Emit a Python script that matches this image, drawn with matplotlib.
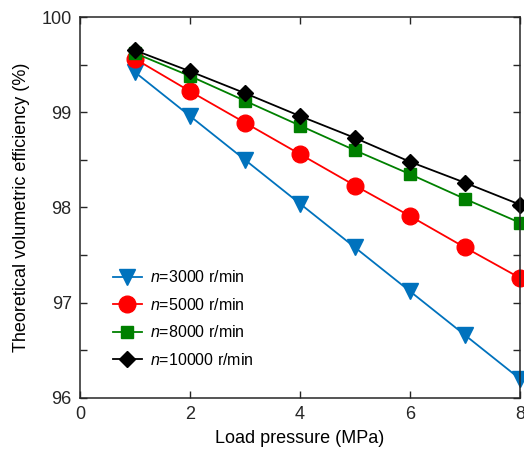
import matplotlib
matplotlib.use("Agg")
import matplotlib.pyplot as plt
from matplotlib.ticker import FuncFormatter, MultipleLocator

plt.rcParams['font.family'] = ['Liberation Sans', 'DejaVu Sans']
plt.rcParams['mathtext.fontset'] = 'custom'
plt.rcParams['mathtext.it'] = 'Liberation Sans:italic'
plt.rcParams['mathtext.rm'] = 'Liberation Sans'

pressure = [1, 2, 3, 4, 5, 6, 7, 8]
eff_3000 = [99.42, 98.96, 98.50, 98.04, 97.58, 97.12, 96.66, 96.20]
eff_5000 = [99.56, 99.22, 98.89, 98.56, 98.23, 97.91, 97.58, 97.26]
eff_8000 = [99.62, 99.38, 99.12, 98.86, 98.60, 98.35, 98.09, 97.84]
eff_10000 = [99.65, 99.43, 99.20, 98.96, 98.73, 98.48, 98.26, 98.03]
labels = ['$n$=3000 r/min', '$n$=5000 r/min', '$n$=8000 r/min', '$n$=10000 r/min']

fig = plt.figure(figsize=(5.24, 4.5), dpi=100)
ax = fig.add_axes([0.1527, 0.1156, 0.8397, 0.8466])

ax.plot(pressure, eff_3000, '-v', color='#0072BD', ms=12, lw=1.3, label=labels[0], clip_on=False)
ax.plot(pressure, eff_5000, '-o', color='#FF0000', ms=12, lw=1.3, label=labels[1], clip_on=False)
ax.plot(pressure, eff_8000, '-s', color='#008000', ms=9, lw=1.3, label=labels[2], clip_on=False)
ax.plot(pressure, eff_10000, '-D', color='black', ms=8.5, lw=1.3, label=labels[3], clip_on=False)

ax.set_xlim(0, 8)
ax.set_ylim(96, 100)
ax.set_xticks([0, 2, 4, 6, 8])
ax.yaxis.set_major_locator(MultipleLocator(0.5))
ax.yaxis.set_major_formatter(FuncFormatter(lambda v, p: f"{int(round(v))}" if abs(v - round(v)) < 1e-6 else ""))
ax.tick_params(direction='in', top=True, right=True, labelsize=13, length=5, width=1,
               colors='#262626', pad=6)
for s in ax.spines.values():
    s.set_linewidth(1.1)
    s.set_color('#262626')

ax.set_xlabel('Load pressure (MPa)', fontsize=13, labelpad=5)
ax.set_ylabel('Theoretical volumetric efficiency (%)', fontsize=13, labelpad=8)

ax.legend(loc='upper left', bbox_to_anchor=(0.06, 0.355), frameon=False, fontsize=11.5,
          handlelength=1.8, labelspacing=0.72, handletextpad=0.5, borderaxespad=0)

fig.savefig('out.png', dpi=100)
